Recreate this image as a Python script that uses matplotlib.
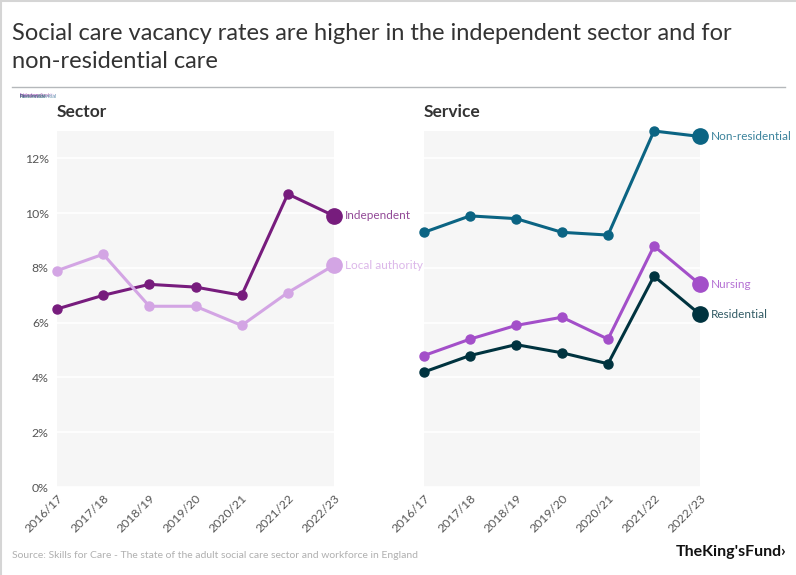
import numpy as np
import matplotlib.pyplot as plt
from matplotlib.ticker import FuncFormatter
from matplotlib.lines import Line2D

years = ["2016/17", "2017/18", "2018/19", "2019/20", "2020/21", "2021/22", "2022/23"]

independent = [6.5, 7.0, 7.4, 7.3, 7.0, 10.7, 9.9]
local_authority = [7.9, 8.5, 6.6, 6.6, 5.9, 7.1, 8.1]

non_residential = [9.3, 9.9, 9.8, 9.3, 9.2, 13.0, 12.8]
nursing = [4.8, 5.4, 5.9, 6.2, 5.4, 8.8, 7.4]
residential = [4.2, 4.8, 5.2, 4.9, 4.5, 7.7, 6.3]

sector_series = [("Independent", independent, "#771c7d"),
                 ("Local authority", local_authority, "#d3a5e4")]
service_series = [("Non-residential", non_residential, "#0b6483"),
                  ("Nursing", nursing, "#a34fc9"),
                  ("Residential", residential, "#00333f")]

plt.rcParams['font.family'] = ['Lato', 'DejaVu Sans']

fig = plt.figure(figsize=(7.96, 5.75), dpi=100)
W, H = 796, 575


def box(x0, y0, x1, y1):
    return [x0 / W, 1 - y1 / H, (x1 - x0) / W, (y1 - y0) / H]


def draw_panel(ax, series, title, show_y):
    x = np.arange(len(years))
    ax.set_facecolor("#f6f6f6")
    for name, vals, col in series:
        ax.plot(x, vals, color=col, lw=2.2, marker="o", ms=6.5, zorder=3, clip_on=False)
        ax.plot(x[-1], vals[-1], marker="o", ms=11, color=col, zorder=4, clip_on=False)
        ax.annotate(name, (x[-1], vals[-1]), xytext=(8, 0), textcoords="offset points",
                    va="center", ha="left", fontsize=8.5, color=col, alpha=0.8)
    ax.set_xlim(0, len(years) - 1)
    ax.set_ylim(0, 13)
    ax.set_yticks([0, 2, 4, 6, 8, 10, 12])
    ax.yaxis.set_major_formatter(FuncFormatter(lambda v, p: f"{v:.0f}%"))
    ax.grid(axis="y", color="white", lw=1.2)
    ax.set_axisbelow(True)
    ax.set_xticks(x)
    ax.set_xticklabels(years, rotation=45, ha="right", rotation_mode="anchor",
                       fontsize=8.8, color="#555555")
    ax.tick_params(axis="both", length=0, pad=4)
    ax.tick_params(axis="y", labelsize=8.8, labelcolor="#555555", pad=6)
    if not show_y:
        ax.tick_params(axis="y", labelleft=False)
    for s in ax.spines.values():
        s.set_visible(False)
    ax.text(0, 1.03, title, transform=ax.transAxes, fontsize=12.5, fontweight="bold",
            color="#333333", ha="left", va="bottom")


ax1 = fig.add_axes(box(57, 131, 334, 487))
ax2 = fig.add_axes(box(424, 131, 700, 487))
draw_panel(ax1, sector_series, "Sector", True)
draw_panel(ax2, service_series, "Service", False)

fig.text(12 / W, 1 - 34 / H, "Social care vacancy rates are higher in the independent sector and for",
         fontsize=17, color="#333333", va="center", ha="left")
fig.text(12 / W, 1 - 61 / H, "non-residential care",
         fontsize=17, color="#333333", va="center", ha="left")
fig.add_artist(Line2D([12 / W, 785 / W], [1 - 87 / H] * 2, color="#b5b8bb", lw=1))
fig.add_artist(Line2D([0.5 / W] * 2, [0, 1], color="#d5d5d5", lw=1.5))
fig.add_artist(Line2D([0, 1], [1 - 0.5 / H] * 2, color="#d5d5d5", lw=1.5))

# overlapping tiny legend text in top-left corner
for name, _, col in sector_series + service_series:
    fig.text(20 / W, 1 - 96 / H, name, fontsize=4, color=col, alpha=0.6, va="center")

fig.text(12 / W, 1 - 555 / H,
         "Source: Skills for Care - The state of the adult social care sector and workforce in England",
         fontsize=7.5, color="#b0b0b0", va="center", ha="left")
fig.text(786 / W, 1 - 552 / H, "TheKing'sFund\u203a", fontsize=11.5, color="#111111",
         va="center", ha="right", fontweight="bold")

fig.savefig("out.png", dpi=100)
